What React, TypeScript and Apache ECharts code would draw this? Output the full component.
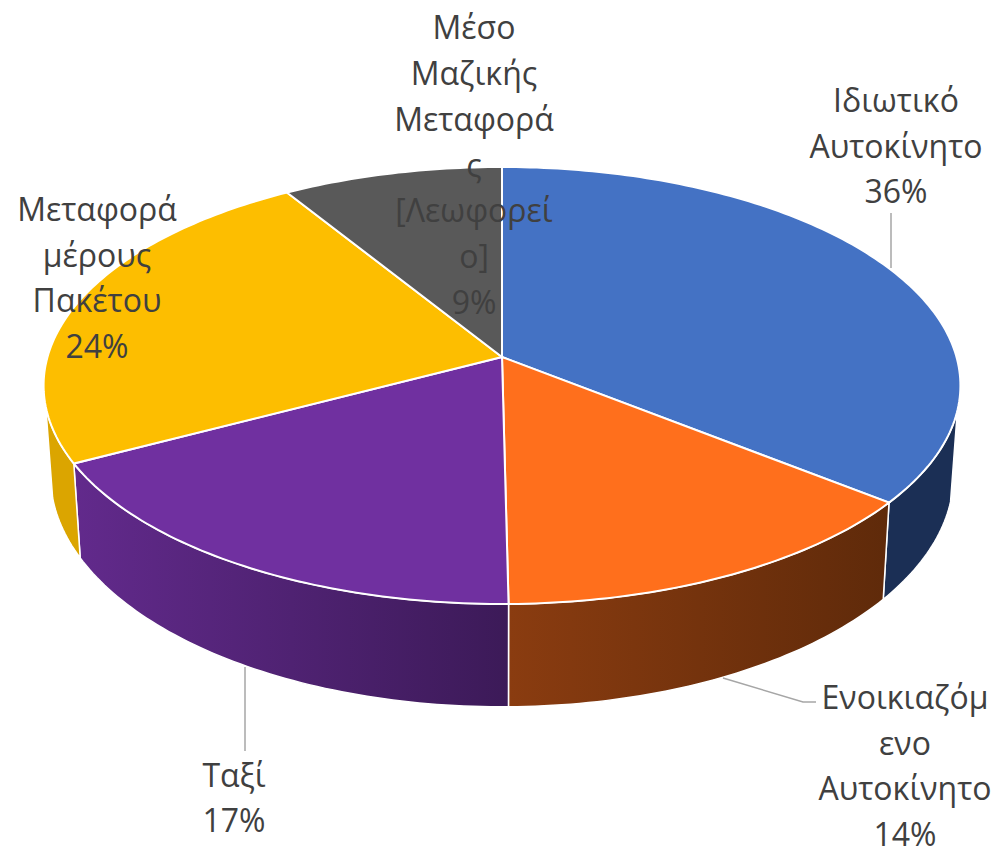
import React, { useEffect, useRef } from "react";
import * as echarts from "echarts";

const categories = [
  "Ιδιωτικό\nΑυτοκίνητο",
  "Ενοικιαζόμ\nενο\nΑυτοκίνητο",
  "Ταξί",
  "Μεταφορά\nμέρους\nΠακέτου",
  "Μέσο\nΜαζικής\nΜεταφορά\nς\n[Λεωφορεί\nο]",
];
const shares = [35.7, 14.1, 17.49, 23.9, 8.81];

const topColors = ["#4472C4", "#FF6F1C", "#7030A0", "#FDBE00", "#595959"];
const wallColors = [
  ["#1B2F55", "#1B2F55"],
  ["#8A3C10", "#5F2A0A"],
  ["#622A8C", "#3C1A58"],
  ["#DBA500", "#DBA500"],
  ["#333333", "#333333"],
];
const labelSpots = [
  { x: 896, y: 145, leader: [[891, 213], [891, 268]] },
  { x: 905, y: 765, leader: [[723, 678], [803, 702], [816, 702]] },
  { x: 234, y: 797, leader: [[245, 667], [245, 751]] },
  { x: 97, y: 277, leader: [] as number[][] },
  { x: 474, y: 164, leader: [] as number[][] },
];

// Perspective projection of the pie's circular faces onto the page
const APEX = { x: 502, y: 357 };
const RX = 454.5;
const RY = 214.8;
const K = 0.1304;
const WALL_DROP = 88;
const WALL_SX = 0.985;
const WALL_SY = 1.06;
const WALL_FROM = 104;
const WALL_TO = 257;

const project = (deg: number) => {
  const r = (deg * Math.PI) / 180;
  const ux = Math.sin(r);
  const uy = -Math.cos(r);
  const w = 1 - K * uy;
  return [(RX * ux) / w, (RY * uy) / w];
};
const topPoint = (deg: number) => {
  const [x, y] = project(deg);
  return [APEX.x + x, APEX.y + y];
};
const bottomPoint = (deg: number) => {
  const [x, y] = project(deg);
  return [APEX.x + WALL_SX * x, APEX.y + WALL_DROP + WALL_SY * y];
};
const arc = (from: number, to: number, fn: (d: number) => number[]) => {
  const out: number[][] = [];
  const n = Math.max(2, Math.ceil(to - from));
  for (let i = 0; i <= n; i++) out.push(fn(from + ((to - from) * i) / n));
  return out;
};

export default function App() {
  const ref = useRef<HTMLDivElement>(null);
  useEffect(() => {
    document.body.style.margin = "0";
    const chart = echarts.init(ref.current!, null, { renderer: "svg" });
    const total = shares.reduce((a, b) => a + b, 0);
    const renderItem = (params: any, api: any) => {
      const i = params.dataIndex;
      const before = shares.slice(0, i).reduce((a, b) => a + b, 0);
      const start = (before / total) * 360;
      const end = start + (api.value(0) / total) * 360;
      const children: any[] = [];

      const wa = Math.max(start, WALL_FROM);
      const wb = Math.min(end, WALL_TO);
      if (wb > wa) {
        const pts = [...arc(wa, wb, topPoint), ...arc(wa, wb, bottomPoint).reverse()];
        children.push({
          type: "polygon",
          shape: { points: pts },
          style: {
            fill: new echarts.graphic.LinearGradient(0, 0, 1, 0, [
              { offset: 0, color: wallColors[i][0] },
              { offset: 1, color: wallColors[i][1] },
            ]),
            stroke: "#FFFFFF",
            lineWidth: 1.5,
          },
        });
      }
      children.push({
        type: "polygon",
        shape: { points: [[APEX.x, APEX.y], ...arc(start, end, topPoint)] },
        style: { fill: topColors[i], stroke: "#FFFFFF", lineWidth: 2 },
      });
      const spot = labelSpots[i];
      if (spot.leader.length) {
        children.push({
          type: "polyline",
          shape: { points: spot.leader },
          style: { fill: "none", stroke: "#A6A6A6", lineWidth: 1.5 },
        });
      }
      children.push({
        type: "text",
        style: {
          text: `${categories[i]}\n${Math.round((api.value(0) / total) * 100)}%`,
          x: spot.x,
          y: spot.y,
          align: "center",
          verticalAlign: "middle",
          fill: "#404040",
          fontFamily: "'Open Sans'",
          fontSize: 32,
          lineHeight: 45.7,
        },
      });
      return { type: "group", children };
    };
    chart.setOption({
      animation: false,
      backgroundColor: "#FFFFFF",
      series: [
        {
          type: "custom",
          coordinateSystem: "none",
          silent: true,
          clip: false,
          renderItem,
          data: shares.map((v, i) => ({ name: categories[i], value: [v] })),
        },
      ],
    });
    return () => chart.dispose();
  }, []);
  return <div ref={ref} style={{ width: 997, height: 848 }} />;
}
